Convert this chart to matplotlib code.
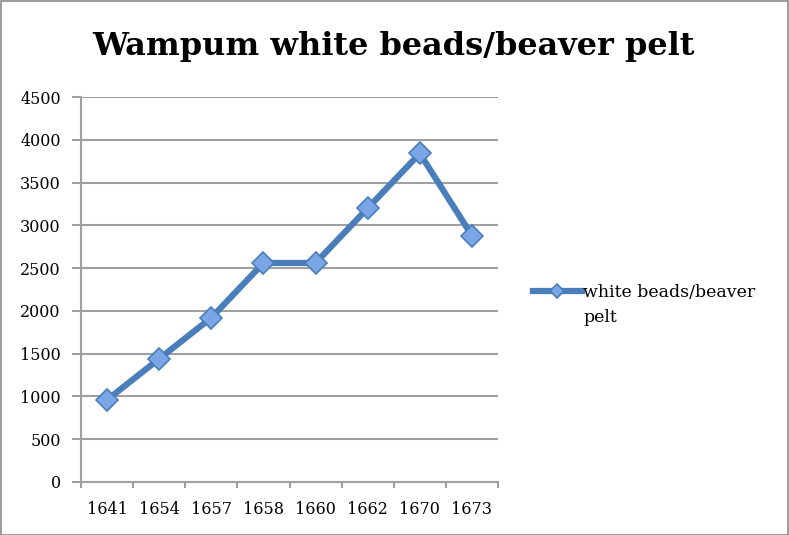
import matplotlib
matplotlib.use("Agg")
import matplotlib.pyplot as plt
from matplotlib.patches import Rectangle
from matplotlib.legend_handler import HandlerLine2D
from matplotlib.transforms import Affine2D

years = ["1641", "1654", "1657", "1658", "1660", "1662", "1670", "1673"]
beads = [960, 1440, 1920, 2560, 2560, 3200, 3840, 2880]
y_ticks = [0, 500, 1000, 1500, 2000, 2500, 3000, 3500, 4000, 4500]

plt.rcParams['font.family'] = ['DejaVu Serif']

LEG_SPACING = 1.65


class FirstLineHandler(HandlerLine2D):
    # keep the legend handle level with the first line of a 2-line label
    def create_artists(self, legend, orig_handle, xdescent, ydescent,
                       width, height, fontsize, trans):
        shift = 0.5 * LEG_SPACING * fontsize
        trans = Affine2D().translate(0, shift) + trans
        return super().create_artists(legend, orig_handle, xdescent, ydescent,
                                      width, height, fontsize, trans)


fig = plt.figure(figsize=(7.89, 5.35), dpi=100)
ax = fig.add_axes([81 / 789, 53 / 535, 417 / 789, 385 / 535])

grid_col = "#a0a0a0"
line_col = "#4a7ebb"

x = list(range(len(years)))
ln, = ax.plot(x, beads, color=line_col, linewidth=4.5,
              marker="D", markersize=11, markerfacecolor="#7aa6e6",
              markeredgecolor="#4a7ebb", markeredgewidth=1.2, zorder=3,
              label="white beads/beaver\npelt")

ax.set_xlim(-0.5, len(years) - 0.5)
ax.set_ylim(0, 4500)
ax.set_yticks(y_ticks)
ax.set_yticklabels([str(v) for v in y_ticks], fontsize=11.5)
ax.set_xticks([i - 0.5 for i in range(len(years) + 1)])
ax.set_xticklabels([])
ax.set_xticks(x, minor=True)
ax.set_xticklabels(years, minor=True, fontsize=11.5)
ax.tick_params(axis="x", which="minor", length=0, pad=14)
ax.tick_params(axis="x", which="major", length=4, color=grid_col, width=1.5)
ax.tick_params(axis="y", length=6.5, color=grid_col, width=1.5, pad=8)

ax.grid(axis="y", color=grid_col, linewidth=1.5)
ax.set_axisbelow(True)
for s in ["top", "right"]:
    ax.spines[s].set_visible(False)
for s in ["left", "bottom"]:
    ax.spines[s].set_color(grid_col)
    ax.spines[s].set_linewidth(1.5)

fig.text(394 / 789, 1 - 46 / 535, "Wampum white beads/beaver pelt",
         ha="center", va="center", fontsize=23, fontweight="bold")

leg = ax.legend(handles=[ln], loc="center left",
                bbox_to_anchor=((533 - 81) / 417, 0.46),
                frameon=False, fontsize=12.5, handlelength=2.8, handletextpad=0.1,
                borderaxespad=0, borderpad=0, markerscale=0.65,
                handler_map={ln: FirstLineHandler()})
for t in leg.get_texts():
    t.set_linespacing(LEG_SPACING)

fig.patches.append(Rectangle((0.5 / 789, 0.5 / 535), 1 - 1.5 / 789, 1 - 1.5 / 535,
                             transform=fig.transFigure, fill=False,
                             edgecolor="#8c8c8c", linewidth=1.2))

fig.savefig("out.png", dpi=100)
